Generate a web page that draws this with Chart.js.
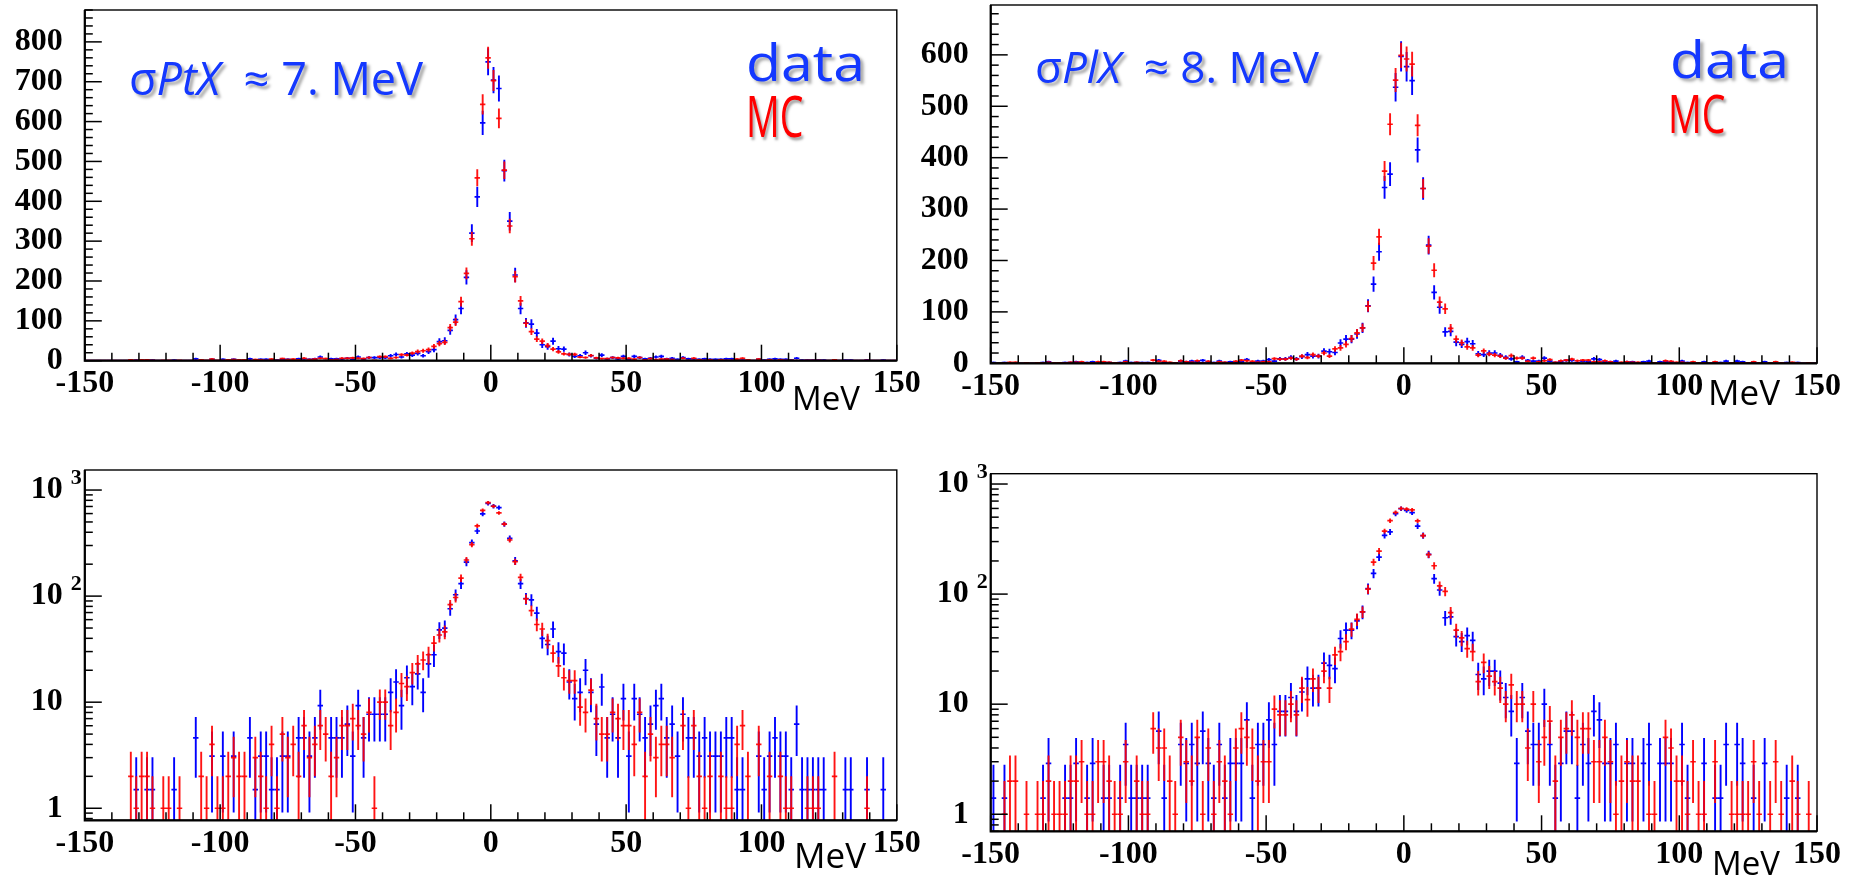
<!DOCTYPE html>
<html><head><meta charset="utf-8">
<script src="https://cdn.jsdelivr.net/npm/chart.js@4/dist/chart.umd.min.js"></script>
<style>
html,body{margin:0;padding:0;background:#fff;width:1863px;height:878px;overflow:hidden;position:relative}
canvas{position:absolute}
.t{position:absolute;white-space:nowrap;font-family:"Open Sans",sans-serif;line-height:1;transform-origin:0 0}
.sh{text-shadow:3px 3px 3px rgba(0,0,0,0.35)}
.blue{color:#1438ff}
.red{color:#ff0000}
</style></head><body>
<canvas id="tl" width="940" height="440" style="left:0;top:0"></canvas>
<canvas id="tr" width="963" height="440" style="left:900px;top:0"></canvas>
<canvas id="bl" width="940" height="438" style="left:0;top:440px"></canvas>
<canvas id="br" width="963" height="438" style="left:900px;top:440px"></canvas>

<div class="t sh blue" style="left:129px;top:55px;font-size:45px">σ<i>PtX</i>&nbsp; ≈ 7. MeV</div>
<div class="t sh blue" style="left:746px;top:35px;font-size:52px;transform:scaleX(1.1)">data</div>
<div class="t sh red" style="left:746px;top:87px;font-size:56px;transform:scaleX(0.67)">MC</div>
<div class="t sh blue" style="left:1035px;top:44px;font-size:44px">σ<i>PlX</i>&nbsp; ≈ 8. MeV</div>
<div class="t sh blue" style="left:1670px;top:32px;font-size:52px;transform:scaleX(1.1)">data</div>
<div class="t sh red" style="left:1668px;top:86px;font-size:53px;transform:scaleX(0.71)">MC</div>

<div class="t" style="left:792px;top:381px;font-size:33px">MeV</div>
<div class="t" style="left:1708px;top:374px;font-size:35px">MeV</div>
<div class="t" style="left:794px;top:837px;font-size:35px">MeV</div>
<div class="t" style="left:1712px;top:846px;font-size:33px">MeV</div>

<script>
// ---- binning (x categories) ----
const BIN_LO = -150, BIN_W = 2, N_BINS = 150;
const X_TICKS = [-150, -100, -50, 0, 50, 100, 150];
const Y_TICKS_PTX = [0, 100, 200, 300, 400, 500, 600, 700, 800];
const Y_TICKS_PLX = [0, 100, 200, 300, 400, 500, 600];
const LOG_TICKS = [1, 10, 100, 1000];
const LOG_LABELS = ['1', '10', '10', '10'];
const LOG_EXPONENTS = ['', '', '2', '3'];

// data scale factors (data normalised to MC)
const PTX_DATA_SCALE = 1.545;
const PLX_DATA_SCALE = 1.433;

// ---- PtX : data (blue) ----
const PTX_DATA = [
 null,null,null,null,null,null,null,null,null,1.5,
 null,1.5,1.5,null,null,null,1.5,null,null,null,
 4.6,null,null,3.1,null,3.1,null,3.1,null,null,
 4.6,1.5,3.1,3.1,1.5,1.5,3.1,3.1,null,4.6,
 4.6,3.1,4.6,9.3,null,4.6,4.6,4.6,6.2,3.1,
 9.3,4.6,7.7,7.7,7.7,7.7,12.4,15.5,9.3,17,
 14,18.5,12.4,23,28,48,50,76,103,131,
 209,320,411,597,750,704,683,477,350,215,
 131,95,92,69,40,35,49,30,29,15.5,
 10.8,12.4,20,12.4,6.2,13.9,4.6,7.7,4.6,10.8,
 3.1,10.8,7.7,4.6,6.2,9.3,10.8,4.6,6.2,3.1,
 7.7,4.6,4.6,3.1,4.6,3.1,3.1,3.1,4.6,4.6,
 1.5,1.5,null,null,3.1,1.5,3.1,4.6,3.1,3.1,
 1.5,6.2,1.5,1.5,1.5,1.5,1.5,null,null,null,
 1.5,1.5,null,null,1.5,null,null,1.5,null,null
];
// ---- PtX : MC (red) ----
const PTX_MC = [
 null,null,null,null,null,null,null,null,2,1,
 2,2,1,null,1,1,null,1,null,null,
 null,2,1,4,1,1,2,3,2,2,
 null,3,2,1,4,1,5,3,4,2,
 6,3,4,6,5,2,3,6,6,7,
 6,5,8,1,10,10,6,8,15,14,
 19,23,25,28,36,43,46,83,97,148,
 219,306,459,643,760,703,608,478,338,211,
 150,94,73,54,49,38,29,22,17,16,
 16,9,8,13,7,5,5,8,7,6,
 6,4,8,2,5,3,4,4,3,null,
 6,1,6,2,1,2,null,2,1,1,
 4,6,2,null,4,null,2,null,2,1,
 1,null,null,1,1,1,null,null,2,null,
 null,null,null,null,1,null,null,null,null,null
];
// ---- PlX : data (blue) ----
const PLX_DATA = [
 1.4,null,1.4,null,null,null,null,null,null,1.4,
 2.9,null,null,1.4,1.4,2.9,null,1.4,2.9,null,
 1.4,1.4,null,1.4,4.3,1.4,1.4,1.4,1.4,null,
 5.7,1.4,null,null,4.3,2.9,4.3,2.9,5.7,2.9,
 1.4,4.3,1.4,2.9,2.9,2.9,7.2,1.4,4.3,4.3,
 7.2,4.3,8.6,8.6,11.5,8.6,12.9,17,14,14,
 23.6,22.5,21,39.5,47,47,57,69,112,154,
 217,342,368,537,597,577,550,415,340,230,
 138,109,61,62,41,37,42,38,18.6,17,
 20,20,15.5,11.5,8.6,2.9,11.5,5.7,4.3,4.3,
 10,4.3,1.4,2.9,5.7,5.7,1.4,4.3,2.9,8.6,
 7.2,2.9,2.9,4.3,null,2.9,2.9,null,2.9,4.3,
 null,2.9,2.9,2.9,null,4.3,1.4,null,null,2.9,
 null,1.4,1.4,4.3,null,4.3,2.9,null,1.4,null,
 2.9,null,null,null,1.4,null,1.4,null,null,null
];
// ---- PlX : MC (red) ----
const PLX_MC = [
 null,null,1,2,2,null,1,null,1,1,
 2,1,1,1,2,2,3,1,1,3,
 3,2,1,1,3,null,2,1,1,6,
 4,4,2,1,5,3,2,5,1,4,
 1,3,2,1,4,6,5,4,2,3,
 3,9,8,8,10,8,14,11,17,14,
 20,14,28,30,37,48,59,69,111,195,
 246,374,465,551,599,592,582,463,340,228,
 181,119,106,68,47,40,32,30,16,24,
 18,16,14,10,15,10,10,4,10,3,
 5,7,2,5,6,8,5,6,6,3,
 3,5,3,1,2,3,2,2,null,1,
 1,null,5,4,2,2,1,3,1,1,
 null,3,null,null,1,1,1,1,3,1,
 null,1,3,1,null,2,1,null,1,null
];

const BLUE = '#0000ff';
const RED = 'rgba(255,0,0,0.92)';
const TICK_FONT = {family: '"Liberation Serif", "Times New Roman", serif', size: 32, weight: 'bold'};

function binCenter(i) { return BIN_LO + BIN_W * (i + 0.5); }
function toPoints(arr, zeroAsFloor) {
  return arr.map((v, i) => ({x: binCenter(i), y: (v === null ? (zeroAsFloor ? 0 : null) : v)}));
}

const rootPlugin = {
  id: 'rootStyle',
  afterDatasetsDraw(chart) {
    const {ctx, chartArea: a, scales: {x, y}} = chart;
    const isLog = y.type === 'logarithmic';
    ctx.save();
    ctx.beginPath();
    ctx.rect(a.left, a.top, a.right - a.left, a.bottom - a.top);
    ctx.clip();
    chart.data.datasets.forEach(ds => {
      ctx.strokeStyle = ds.borderColor;
      ds.data.forEach(p => {
        if (p.y === null) return;
        if (isLog && p.y <= 0) return;
        const err = Math.sqrt(p.y * ds.errScale);
        const xc = x.getPixelForValue(p.x);
        const xl = x.getPixelForValue(p.x - BIN_W / 2);
        const xr = x.getPixelForValue(p.x + BIN_W / 2);
        const yc = y.getPixelForValue(p.y);
        if (p.y > 0) {
          const lo = p.y - err;
          const yLo = (isLog && lo <= 0) ? a.bottom + 5 : y.getPixelForValue(lo);
          const yHi = y.getPixelForValue(p.y + err);
          ctx.lineWidth = 1.9;
          ctx.beginPath(); ctx.moveTo(xc, yLo); ctx.lineTo(xc, yHi); ctx.stroke();
        }
        ctx.lineWidth = 1.7;
        ctx.beginPath(); ctx.moveTo(xl, yc); ctx.lineTo(xr, yc); ctx.stroke();
      });
    });
    ctx.restore();
  },
  afterDraw(chart) {
    const {ctx, chartArea: a, scales: {x, y}} = chart;
    const isLog = y.type === 'logarithmic';
    ctx.save();
    ctx.strokeStyle = '#000';
    ctx.lineWidth = 1.5;
    // x ticks (inside, pointing up)
    for (let v = -150; v <= 150; v += 10) {
      const px = x.getPixelForValue(v);
      const len = (v % 50 === 0) ? 16 : 8;
      ctx.beginPath(); ctx.moveTo(px, a.bottom); ctx.lineTo(px, a.bottom - len); ctx.stroke();
    }
    // y ticks
    if (isLog) {
      for (let d = -1; d <= 4; d++) {
        for (let k = 1; k <= 9; k++) {
          const v = k * Math.pow(10, d);
          if (v < y.min || v > y.max) continue;
          const py = y.getPixelForValue(v);
          const len = (k === 1) ? 17 : 8;
          ctx.beginPath(); ctx.moveTo(a.left, py); ctx.lineTo(a.left + len, py); ctx.stroke();
        }
      }
    } else {
      for (let v = 0; v <= y.max; v += 20) {
        const py = y.getPixelForValue(v);
        const len = (v % 100 === 0) ? 17 : 8;
        ctx.beginPath(); ctx.moveTo(a.left, py); ctx.lineTo(a.left + len, py); ctx.stroke();
      }
    }
    // frame
    ctx.lineWidth = 1.4;
    ctx.strokeRect(a.left, a.top, a.right - a.left, a.bottom - a.top);
    ctx.lineWidth = 2.2;
    ctx.beginPath(); ctx.moveTo(a.left, a.top); ctx.lineTo(a.left, a.bottom); ctx.lineTo(a.right, a.bottom); ctx.stroke();
    // log exponents
    if (isLog) {
      ctx.fillStyle = '#000';
      ctx.font = 'bold 22px "Liberation Serif", serif';
      ctx.textBaseline = 'middle';
      ctx.textAlign = 'left';
      LOG_TICKS.forEach((v, i) => {
        if (!LOG_EXPONENTS[i]) return;
        const py = y.getPixelForValue(v);
        ctx.fillText(LOG_EXPONENTS[i], a.left - 14, py - 12);
      });
    }
    ctx.restore();
  }
};

function makeChart(id, cfg) {
  const yScale = cfg.log ? {
    type: 'logarithmic', min: cfg.yMin, max: cfg.yMax,
    afterBuildTicks: s => { s.ticks = LOG_TICKS.map(v => ({value: v})); },
    ticks: {font: TICK_FONT, color: '#000', padding: 22,
      callback: v => { const i = LOG_TICKS.indexOf(v); return i >= 0 ? LOG_LABELS[i] : ''; }}
  } : {
    type: 'linear', min: 0, max: cfg.yMax,
    afterBuildTicks: s => { s.ticks = cfg.yTicks.map(v => ({value: v})); },
    ticks: {font: TICK_FONT, color: '#000', padding: 22, callback: v => String(v)}
  };
  Object.assign(yScale, {
    grid: {display: false, drawTicks: false}, border: {display: false},
    afterFit: s => { s.width = cfg.yW; s.paddingTop = 0; s.paddingBottom = 0; }
  });
  return new Chart(document.getElementById(id), {
    type: 'scatter',
    data: {datasets: [
      {label: 'data', data: toPoints(cfg.data, !cfg.log), borderColor: BLUE, backgroundColor: BLUE, errScale: cfg.dataScale},
      {label: 'MC', data: toPoints(cfg.mc, !cfg.log), borderColor: RED, backgroundColor: RED, errScale: 1}
    ]},
    options: {
      responsive: false, animation: false, devicePixelRatio: 1,
      layout: {padding: {top: cfg.padTop, right: cfg.padRight, left: 0, bottom: 0}},
      plugins: {legend: {display: false}, tooltip: {enabled: false}},
      elements: {point: {radius: 0, hoverRadius: 0}},
      events: [],
      scales: {
        x: {
          type: 'linear', min: -150, max: 150,
          afterBuildTicks: s => { s.ticks = X_TICKS.map(v => ({value: v})); },
          afterFit: s => { s.height = cfg.xH; s.paddingLeft = 0; s.paddingRight = 0; },
          grid: {display: false, drawTicks: false}, border: {display: false},
          ticks: {font: TICK_FONT, color: '#000', padding: 4, maxRotation: 0, autoSkip: false, callback: v => String(v)}
        },
        y: yScale
      }
    },
    plugins: [rootPlugin]
  });
}

makeChart('tl', {data: PTX_DATA, mc: PTX_MC, dataScale: PTX_DATA_SCALE, log: false, yMax: 880, yTicks: Y_TICKS_PTX,
  yW: 84.8, xH: 79.3, padTop: 10, padRight: 43.2});
makeChart('tr', {data: PLX_DATA, mc: PLX_MC, dataScale: PLX_DATA_SCALE, log: false, yMax: 697, yTicks: Y_TICKS_PLX,
  yW: 90.7, xH: 76.7, padTop: 5, padRight: 46});
makeChart('bl', {data: PTX_DATA, mc: PTX_MC, dataScale: PTX_DATA_SCALE, log: true, yMin: 0.77, yMax: 1545,
  yW: 84.8, xH: 57.7, padTop: 30, padRight: 43.2});
makeChart('br', {data: PLX_DATA, mc: PLX_MC, dataScale: PLX_DATA_SCALE, log: true, yMin: 0.716, yMax: 1241,
  yW: 90.7, xH: 46.7, padTop: 33.7, padRight: 46});
</script>
</body></html>
